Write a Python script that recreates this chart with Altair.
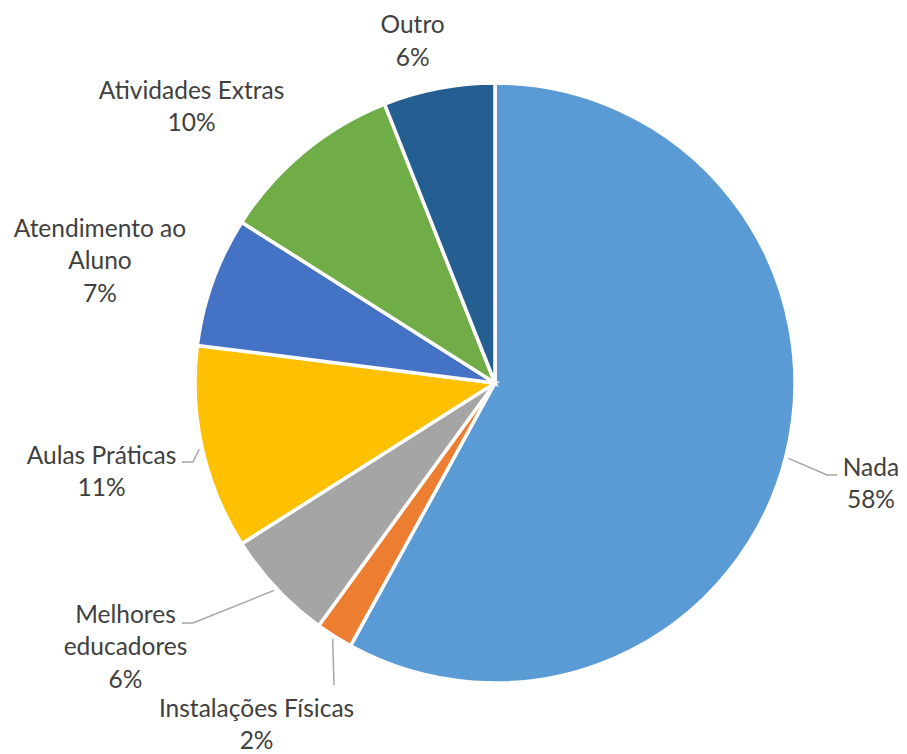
import altair as alt
import pandas as pd
import numpy as np

# ---- data ----
categories = ["Nada", "Instalações Físicas", "Melhores educadores", "Aulas Práticas",
              "Atendimento ao Aluno", "Atividades Extras", "Outro"]
display_names = ["Nada", "Instalações Físicas", "Melhores\neducadores", "Aulas Práticas",
                 "Atendimento ao\nAluno", "Atividades Extras", "Outro"]
values = [58, 2, 6, 11, 7, 10, 6]
colors = ["#5B9BD5", "#ED7D31", "#A5A5A5", "#FFC000", "#4472C4", "#70AD47", "#255E91"]

# ---- layout (styling, not data) ----
CX, CY, R = 487, 375, 300
LH = 32.5
label_angle = [105.2, 214.8, 234.35, 257.1, 287.0, 312.2, 346.4]   # degrees clockwise from top
label_radius = [389.6, 417.8, 454.7, 403.7, 413.1, 409.6, 350.4]   # pixels from centre
leader_bends = {
    "Nada": [(332, 92), (342, 92)],
    "Instalações Físicas": [(-161, 302)],
    "Melhores educadores": [(-302, 240), (-313, 240)],
    "Aulas Práticas": [(-302, 79), (-313, 79)],
}

labels_txt = [f"{n}\n{v}%" for n, v in zip(display_names, values)]
df = pd.DataFrame({
    "category": categories,
    "value": values,
    "idx": list(range(len(categories))),
    "label": labels_txt,
    "nl": [t.count("\n") + 1 for t in labels_txt],
    "la": label_angle,
    "lr": label_radius,
})

# leader lines: start at slice mid-angle on the rim
total = sum(values)
cum = np.cumsum([0] + values)
rows = []
for i, c in enumerate(categories):
    if c not in leader_bends:
        continue
    mid = (cum[i] + values[i] / 2) / total * 2 * np.pi
    rows.append({"category": c, "seq": 0,
                 "px": CX + 303 * np.sin(mid), "py": CY - 303 * np.cos(mid)})
    for k, (dx, dy) in enumerate(leader_bends[c]):
        rows.append({"category": c, "seq": k + 1, "px": CX + dx, "py": CY + dy})
leaders = pd.DataFrame(rows)

color_scale = alt.Scale(domain=categories, range=colors)

pie = alt.Chart(df).mark_arc(outerRadius=R, stroke="white", strokeWidth=3.5).encode(
    theta=alt.Theta("value:Q", stack=True),
    order=alt.Order("idx:Q"),
    color=alt.Color("category:N", scale=color_scale, legend=None),
    x=alt.value(CX),
    y=alt.value(CY),
)

lines = alt.Chart(leaders).mark_line(color="#A6A6A6", strokeWidth=1.5).encode(
    x=alt.X("px:Q", scale=None, axis=None),
    y=alt.Y("py:Q", scale=None, axis=None),
    detail="category:N",
    order="seq:Q",
)

labels = alt.Chart(df).transform_calculate(
    tx=f"{CX} + datum.lr * sin(datum.la * PI / 180)",
    ty=f"{CY} - datum.lr * cos(datum.la * PI / 180) - (datum.nl - 1) * {LH} / 2",
).mark_text(
    font="Lato", fontSize=24.5, color="#404040", lineBreak="\n", lineHeight=LH,
    align="center", baseline="middle",
).encode(
    x=alt.X("tx:Q", scale=None, axis=None),
    y=alt.Y("ty:Q", scale=None, axis=None),
    text="label:N",
)

chart = alt.layer(pie, lines, labels).properties(
    width=891, height=746, padding=0, background="white",
    autosize=alt.AutoSizeParams(type="none"),
).configure_view(stroke=None, strokeWidth=0)

chart.save("out.html", embed_options={"renderer": "svg", "actions": False})
